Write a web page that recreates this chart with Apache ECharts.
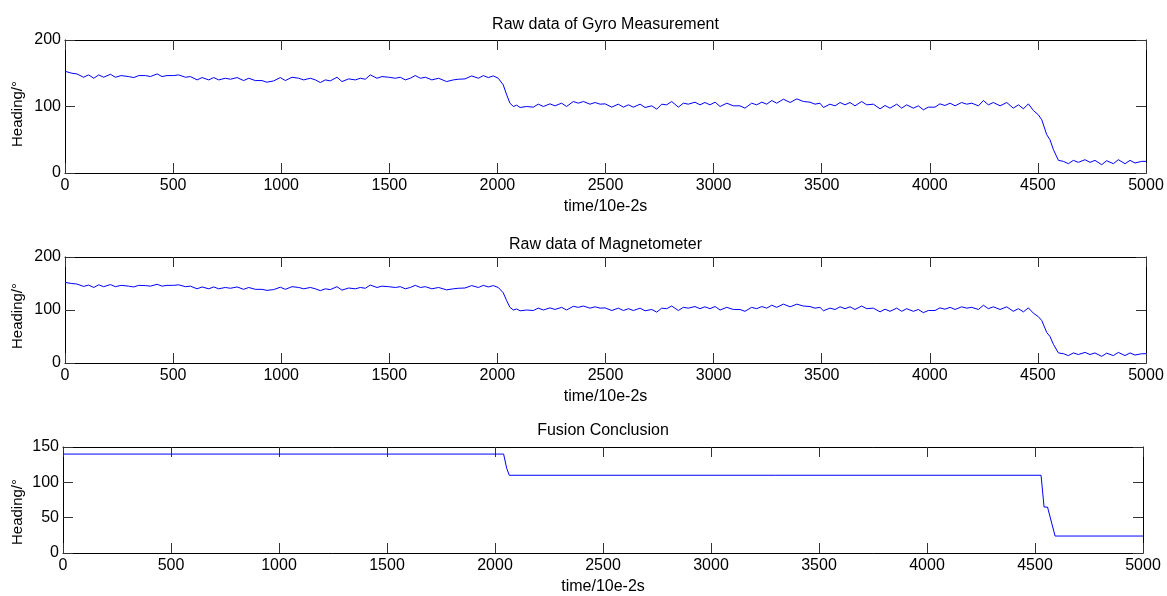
<!DOCTYPE html>
<html>
<head>
<meta charset="utf-8">
<script src="https://cdn.jsdelivr.net/npm/echarts@6/dist/echarts.min.js"></script>
<style>html,body{margin:0;padding:0;background:#fff}#c{width:1167px;height:596px}</style>
</head>
<body>
<div id="c"></div>
<script>
// ---------------- data ----------------
const titles = ['Raw data of Gyro Measurement', 'Raw data of Magnetometer', 'Fusion Conclusion'];
const xName = 'time/10e-2s';
const yName = 'Heading/°';
const xTicks = [0, 500, 1000, 1500, 2000, 2500, 3000, 3500, 4000, 4500, 5000];
const yTicksRaw = [0, 100, 200];
const yTicksFusion = [0, 50, 100, 150];

const gyroTime = [0,32,55,86,109,133,156,179,210,233,260,294,318,341,372,395,426,449,472,503,526,557,580,611,634,665,688,711,742,765,796,826,850,880,911,934,965,996,1019,1050,1081,1104,1135,1158,1181,1204,1227,1258,1281,1312,1343,1366,1389,1412,1443,1466,1497,1528,1551,1574,1597,1620,1644,1667,1697,1728,1765,1796,1819,1850,1881,1912,1935,1958,1981,2004,2027,2043,2058,2074,2089,2105,2135,2166,2189,2213,2243,2266,2297,2320,2351,2374,2398,2428,2452,2475,2498,2529,2559,2583,2606,2629,2660,2683,2714,2737,2760,2783,2806,2837,2860,2883,2914,2937,2960,2983,3007,3030,3061,3091,3122,3145,3176,3199,3223,3246,3269,3292,3323,3354,3385,3415,3446,3469,3492,3508,3538,3562,3585,3608,3631,3654,3685,3708,3739,3770,3793,3816,3847,3870,3893,3924,3947,3970,3993,4024,4047,4070,4094,4117,4147,4171,4194,4225,4248,4271,4294,4325,4356,4386,4410,4433,4456,4479,4502,4518,4541,4556,4572,4595,4618,4641,4664,4687,4718,4741,4764,4795,4818,4849,4872,4903,4926,4949,4980,5000];
const gyroHeading = [153,150,149,144,147.5,142.5,147.5,144,148.5,144,146.5,145,143.5,146.5,146.5,145,149,145,146.5,146.5,147.5,144,145,140,143.5,140,143.5,140,142.5,141,143.5,139,142.5,139,139,136.5,138.5,143.5,139,144,142.5,140,142.5,140,136,140,138.5,144,137.5,141.5,140,142.5,141,147.5,142.5,145,144,142.5,144,140,142.5,146.5,142.5,144,140,142.5,137.5,140,141,141.5,146,142.5,146.5,143.5,146,142.5,132.5,117.5,105,100,102,98.5,100,99,103.5,100,104,101,105,100,107.5,105,107.5,103.5,106,103.5,104,99,103.5,99,102.5,99,103.5,98.5,101,96,103.5,102.5,107.5,99,105,103.5,106.5,102.5,106,102.5,106.5,100,105,101,101,97.5,105,102.5,106.5,103.5,109,105,111,106,111.5,107.5,106.5,103.5,105,98.5,103.5,101,106,102.5,106,101,107.5,102.5,103.5,96.5,101.5,97.5,103.5,97.5,102.5,97.5,101,95,99,99,104,101.5,105,101,106,103.5,105,101,109,102.5,106,101,106,97.5,102.5,96.5,104,94,87.5,80,57.5,50,35,19,17.5,14,19,16,20,16,19,12.5,18.5,14,20,14,19,15,17.5,17.5];

const magTime = [0,32,55,86,109,133,156,179,210,233,260,294,318,341,372,395,426,449,472,503,526,557,580,611,634,665,688,711,742,765,796,826,850,880,911,934,965,996,1019,1050,1081,1104,1135,1158,1181,1204,1227,1258,1281,1312,1343,1366,1389,1412,1443,1466,1497,1528,1551,1574,1597,1620,1644,1667,1697,1728,1765,1796,1819,1850,1881,1912,1935,1958,1981,2004,2027,2043,2058,2074,2089,2105,2135,2166,2189,2213,2243,2266,2297,2320,2351,2374,2398,2428,2452,2475,2498,2529,2559,2583,2606,2629,2660,2683,2714,2737,2760,2783,2806,2837,2860,2883,2914,2937,2960,2983,3007,3030,3061,3091,3122,3145,3176,3199,3223,3246,3269,3292,3323,3354,3385,3415,3446,3469,3492,3508,3538,3562,3585,3608,3631,3654,3685,3708,3739,3770,3793,3816,3847,3870,3893,3924,3947,3970,3993,4024,4047,4070,4094,4117,4147,4171,4194,4225,4248,4271,4294,4325,4356,4386,4410,4433,4456,4479,4502,4518,4541,4556,4572,4595,4618,4641,4664,4687,4718,4741,4764,4795,4818,4849,4872,4903,4926,4949,4980,5000];
const magHeading = [152,150,149,144.5,147,142.5,147.5,144,148,144,146.5,145,143.5,146.5,146,145,148.5,145,146.5,146.5,147.5,144,145,140,143.5,140,143.5,140,142.5,141,143.5,139,142.5,139,139,137,138.5,143,139,144,142.5,140,142.5,140,136.5,140,138.5,144,137.5,141.5,140,142.5,141,147,142.5,145,144,142.5,144,140,142.5,146.5,142.5,144,140,142.5,138,140,141,141.5,146,142.5,146.5,143.5,146,142.5,132.5,117.5,105,100,102,98.5,100,99,103.5,100,104,101,105,100,107,105,107.5,103.5,106,103.5,104,99,103.5,99,102.5,99,103.5,98.5,101,96,103.5,102.5,107.5,99,105,103.5,106.5,102.5,106,102.5,106.5,100,105,101,101,97.5,105,102.5,106.5,103.5,109,105,111,106,111,107.5,106.5,103.5,105,98.5,103.5,101,106,102.5,106,101,107.5,102.5,103.5,96.5,101.5,97.5,103.5,97.5,102.5,97.5,101,95,99,99,104,101.5,105,101,106,103.5,105,101,109,102.5,106,101,106,97.5,102.5,96.5,104,94,87.5,80,57.5,50,35,19,17.5,14,19,16,20,16,19,12.5,18.5,14,20,14,19,15,17.5,17.5];

const fusionTime = [0, 2040, 2054, 2066, 4528, 4542, 4558, 4593, 5000];
const fusionHeading = [140, 140, 120, 110, 110, 65, 65, 24, 24];

// ---------------- chart ----------------
const FONT = '"Liberation Sans", Arial, Helvetica, sans-serif';
const grids = [
  {left: 65, top: 40, width: 1081, height: 133},
  {left: 65, top: 257, width: 1081, height: 106},
  {left: 63, top: 447, width: 1080, height: 109}
];
const titleY = [25, 245, 431];
const yLabelY = [114, 316, 512];
const yTickSets = [yTicksRaw, yTicksRaw, yTicksFusion];
const seriesData = [
  gyroTime.map((t, i) => [t, gyroHeading[i]]),
  magTime.map((t, i) => [t, magHeading[i]]),
  fusionTime.map((t, i) => [t, fusionHeading[i]])
];

const mkLine = () => ({show: true, onZero: false, lineStyle: {color: '#000', width: 1}});
const mkTick = () => ({show: true, inside: true, length: 10, lineStyle: {color: '#333', width: 1}});
const mkLabel = (m) => ({show: true, margin: m, color: '#000', fontSize: 16, fontFamily: FONT, formatter: v => String(v)});

const xAxis = [], yAxis = [], series = [], graphic = [];
grids.forEach((g, i) => {
  const yt = yTickSets[i];
  const xMin = xTicks[0], xMax = xTicks[xTicks.length - 1], xInt = xTicks[1] - xTicks[0];
  const yMin = yt[0], yMax = yt[yt.length - 1], yInt = yt[1] - yt[0];
  xAxis.push({
    type: 'value', gridIndex: i, position: 'bottom', min: xMin, max: xMax, interval: xInt,
    axisLine: mkLine(), axisTick: mkTick(), splitLine: {show: false},
    axisLabel: mkLabel(5),
    name: xName, nameLocation: 'middle', nameGap: 26,
    nameTextStyle: {color: '#000', fontSize: 16, fontFamily: FONT}
  });
  xAxis.push({
    type: 'value', gridIndex: i, position: 'top', min: xMin, max: xMax, interval: xInt,
    axisLine: mkLine(), axisTick: mkTick(), splitLine: {show: false},
    axisLabel: {show: false}
  });
  yAxis.push({
    type: 'value', gridIndex: i, position: 'left', min: yMin, max: yMax, interval: yInt,
    axisLine: mkLine(), axisTick: mkTick(), splitLine: {show: false},
    axisLabel: mkLabel(4)
  });
  yAxis.push({
    type: 'value', gridIndex: i, position: 'right', min: yMin, max: yMax, interval: yInt,
    axisLine: mkLine(), axisTick: mkTick(), splitLine: {show: false},
    axisLabel: {show: false}
  });
  series.push({
    type: 'line', xAxisIndex: 2 * i, yAxisIndex: 2 * i, data: seriesData[i],
    showSymbol: false, symbol: 'none', smooth: false, animation: false,
    lineStyle: {color: '#0000ff', width: 1}
  });
  graphic.push({
    type: 'text', x: g.left + g.width / 2, y: titleY[i],
    style: {text: titles[i], font: '16px ' + FONT, fill: '#000', textAlign: 'center', textVerticalAlign: 'middle'}
  });
  graphic.push({
    type: 'text', x: 18, y: yLabelY[i], rotation: Math.PI / 2,
    style: {text: yName, font: '15px ' + FONT, fill: '#000', textAlign: 'center', textVerticalAlign: 'middle'}
  });
});

const chart = echarts.init(document.getElementById('c'), null, {renderer: 'canvas'});
chart.setOption({
  animation: false,
  backgroundColor: '#fff',
  grid: grids.map(g => Object.assign({containLabel: false}, g)),
  xAxis, yAxis, series, graphic
});
</script>
</body>
</html>
